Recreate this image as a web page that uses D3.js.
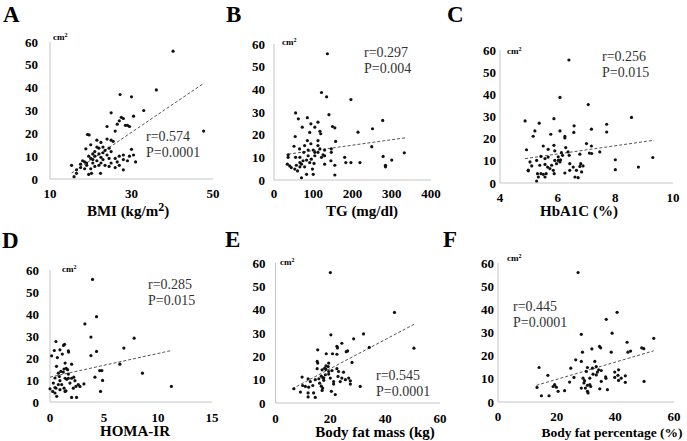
<!DOCTYPE html>
<html><head><meta charset="utf-8">
<script src="https://cdn.jsdelivr.net/npm/d3@7"></script>
<style>body{margin:0;background:#fff}svg{display:block}</style>
</head><body>
<script>
// ---------- DATA ----------
const panelLetters = ["A","B","C","D","E","F"];
const xTitles = ["BMI (kg/m", "TG (mg/dl)", "HbA1C (%)", "HOMA-IR", "Body fat mass (kg)", "Body fat percentage (%)"];
const xDomains = [[10,50],[0,400],[4,10],[0,15],[0,60],[0,60]];
const xTicksList = [[10,30,50],[0,100,200,300,400],[4,6,8,10],[0,5,10,15],[0,20,40,60],[0,20,40,60]];
const yTicks = [0,10,20,30,40,50,60];
const rLabels = ["r=0.574","r=0.297","r=0.256","r=0.285","r=0.545","r=0.445"];
const pLabels = ["P=0.0001","P=0.004","P=0.015","P=0.015","P=0.0001","P=0.0001"];
const unitLabel = "cm";

const bmiPoints = [[40.2,56],[36.1,39],[27.2,37],[30,36],[33,30],[25,29],[30.5,27.5],[47.7,21],
[27.5,27],[28,26.5],[27,25.5],[26.5,24],[28.5,23.5],[29,23.5],[29.5,23],[24,23],[26,21],[19.2,19.5],[19.6,19.3],
[24,17.5],[21.5,17],[22.5,16],[20,15],[25.5,16.5],[25,17],[23,14],[22,13.5],[24.5,13.5],[21,12],[18.8,13.2],
[20.5,11],[22,11],[23,11.5],[24,10.5],[21,10],[19.5,10],[22.5,9.5],[24.5,9],[26,9],[27,10],[28,10.5],[29.5,10],
[30,13],[30.5,10.5],[28,8.5],[29,8],[31,7.5],[27,6],[26,5],[28,4],[18,8],[18.5,7.5],[19,7],[17.5,6.5],[19,6],
[20.5,7],[21.5,8],[22.5,7],[23.5,6],[24.5,5.5],[21,5.5],[20,4.5],[18.5,4.5],[17.5,5],[16.5,4],[15.3,6],[16.5,2.5],
[15.9,1],[19.5,2],[20.2,2.5],[22.4,2.5],[20.5,8.5],[23,8.5],[22,6],[25,7],[26.5,7.5],[25,12],[21.5,14],[23.5,12.5],[20,9]];
const tgPoints = [[136,55.7],[121,38.6],[134,36.7],[196,35.5],[140,28.8],[55,29.6],[62,27],[85,27.5],[72,23.3],[94,24.8],
[104,23.3],[112,25.5],[54,19.2],[117,21.5],[119,20.4],[149,23.6],[155,23],[214,21.1],[251,22.6],[277,26.3],[157,17],
[85,17.4],[91,21],[112,17.4],[112,15.2],[94,16],[146,13.7],[146,12.2],[249,14.7],[51,14.9],[78,15.2],[117,13.7],
[100,13.2],[129,13.2],[76,12.2],[332,12],[278,10.4],[180,10],[300,8.8],[284,6.5],[284,5.8],[219,7.7],[196,7.7],
[183,7.7],[155,6.5],[129,7],[155,2.2],[125,11.1],[104,10.7],[87,10.7],[66,10],[36,11.1],[36,10],[34,7],[40,6.2],
[44,5.5],[53,4.8],[60,4],[66,5.8],[70,7],[74,8.5],[83,8.8],[91,7.7],[102,7.3],[83,2.5],[70,1],[100,2.5],[57,6.5],
[66,7.7],[78,5.8],[95,9.2],[104,12.2],[112,12.2],[129,10.7],[87,13.2],[65,13.7],[98,4.8],[121,10],[145,8.5],[55,10]];
const hba1cPoints = [[6.39,55.5],[6.08,38.6],[7.06,35.4],[8.56,29.6],[4.87,28],[5.36,27],[5.87,29],[5.21,23.5],[5.15,21.1],
[5.76,22],[6.08,23.5],[6.25,21],[6.25,20.3],[6.57,25.8],[6.56,22.8],[7.17,24.3],[7.7,26.5],[7.7,23],[7.0,17.8],[7.17,16.7],
[7.46,14],[7.1,13.5],[7.18,13.3],[4.92,15],[5.5,16.7],[5.87,17],[5.67,15.2],[5.9,14.5],[6.13,13.7],[6.28,16],[6.77,13],
[6.4,12.5],[8.0,10.5],[8.0,6],[8.8,7.2],[9.3,11.5],[4.98,5.5],[4.98,5.8],[5.1,7.7],[5.27,10.2],[5.42,12],[5.56,11],
[5.67,11.7],[5.38,8],[5.56,8.4],[5.65,7.2],[5.79,8],[5.3,4.2],[5.42,4.2],[5.5,3.9],[5.6,4.2],[5.33,2.7],[5.27,0.9],
[5.56,2.7],[5.88,4.2],[5.96,8.7],[6.02,10.2],[6.1,10.5],[6.02,11.8],[6.17,12.5],[6.42,8.7],[6.42,5.7],[6.25,4.5],
[6.54,7.2],[6.8,8.7],[6.77,7.5],[6.65,5.7],[6.6,2.7],[6.71,2.4],[6.83,5],[6.88,7.7],[6.36,14],[6.08,9.5],[5.9,10.2],
[5.85,5.7],[5.73,6.5],[5.04,9.5]];
const homaPoints = [[3.94,55.7],[4.31,38.8],[3.23,35.5],[3.79,29.5],[7.79,29],[6.84,24.5],[4.31,23],[3.79,21.1],[0.55,27.5],
[1.25,25.7],[1.35,26.2],[0.4,23.4],[0.92,23.7],[1.7,23.2],[1.72,22.7],[0.15,21],[0.68,20.2],[1.14,21.8],[2.0,17.2],[6.47,17.2],
[8.56,13.1],[11.24,7.1],[4.6,14.3],[4.8,14.3],[4.16,11.3],[4.87,9.8],[4.68,4.8],[3.14,8.2],[0.6,16.2],[1.4,17.7],[1.3,15],
[1.5,15.3],[1.63,14.7],[1.0,13.9],[0.77,13.1],[1.23,13.6],[1.7,12.7],[0.86,11.6],[1.4,10.8],[1.55,10.3],[1.7,10.8],[2,10.8],
[2.2,11.3],[0.46,10.9],[0.92,9.7],[0.31,8.6],[0,6],[0.25,4.8],[0.55,6.3],[0.77,7.9],[1.08,7.9],[1.3,6.3],[1.48,5.1],
[0.92,5.6],[0.62,2.6],[2.0,2.1],[2.46,2.1],[2.16,6.3],[2.4,7.1],[2.62,7.9],[2.77,7.1],[1.85,8.6],[1.39,4.8],[0.46,4.1],
[2.31,9.7],[0.46,6.6]];
const fatMassPoints = [[20,55.9],[43.4,38.8],[20.2,29.2],[32.1,29.6],[28.5,27.5],[24.2,25.6],[22.4,24.3],[22.6,23.6],[34.2,23.8],
[50.5,23.5],[15.4,22.8],[25.8,22],[26.3,22.3],[18.5,21.1],[20.8,21.1],[22.4,20.9],[15.2,17.8],[15.4,17.1],[19.4,17.1],[27.9,17.4],
[17.9,14.9],[18.4,14.4],[19.2,15.6],[17,14.2],[15.2,14.7],[20.6,13.9],[23,13.5],[24.8,13.2],[16.7,11.5],[17.3,10.8],[17.6,10.8],
[15.8,10.4],[19.4,12.4],[20,10.7],[21.2,9.2],[21.2,8.1],[22.8,11.4],[24.2,10.7],[23.6,9.2],[25.5,10],[26.7,10.7],[27.3,9.5],
[27.3,8.1],[30.9,7.1],[9.7,11.1],[11.9,10.4],[12.7,9.2],[9.9,7.5],[10.9,7.1],[12.1,6.8],[13.6,7.5],[6.7,6.1],[9.1,4.7],
[11.9,4.3],[11.9,2.6],[14.5,2.4],[13.9,4.3],[16.7,7.2],[17.2,6.4],[17,5.4],[20.4,5],[21.8,3.6],[18.2,12.1],[16.1,8.5],
[17.6,9.7],[19.4,13.5],[18.4,15.9],[14.5,10],[22.4,14.7]];
const fatPctPoints = [[27.3,55.9],[40.6,38.7],[36.9,35.7],[28.4,29.2],[38.9,29.7],[53.1,27.5],[44,25.8],[34.6,24],[35,23.4],
[32,22.9],[49,23.4],[49.7,23],[45.2,22],[44.3,21.5],[38.6,21.5],[28.8,21.5],[26.5,18.2],[28.4,17.5],[33,17.5],[14,14.9],
[24.8,14.6],[30.5,14.9],[32.2,14.6],[33.5,15.3],[34.3,13.9],[35.2,13.6],[33.9,12.9],[39.8,12.9],[41.1,13.9],[36.7,10.9],
[36.8,10.2],[40.9,11.5],[39.8,10.6],[42,10.3],[43.4,11.3],[41.1,9.3],[43.4,8.5],[49.8,8.9],[17,11.5],[18.8,6.7],[19.9,6.4],
[19.3,7.5],[20.5,4.6],[22.7,4.9],[24.4,8.6],[25.9,10.6],[13.3,6.3],[14.8,2.7],[17.4,2.7],[29,10.3],[29.5,9.2],[29.3,8.2],
[28.4,6],[29.8,6],[30.5,7.2],[31.3,7.5],[30.5,4.6],[30.7,3.9],[31.6,6.7],[30.1,13.2],[34.7,5.7],[37.3,5.3],[31.3,10.3],
[32.4,12],[33.5,11.7],[35.2,8.9]];
const trendLines = [[[15.3,2.6],[47.8,42]],[[36,11.4],[334,18.6]],[[4.87,11],[9.35,19.3]],[[0,11.3],[11.24,23.4]],[[6.1,6.1],[50.5,33.7]],[[13.1,7.2],[53.1,22.1]]];
const allPoints = [bmiPoints, tgPoints, hba1cPoints, homaPoints, fatMassPoints, fatPctPoints];

// ---------- LAYOUT ----------
const layout = [
 {xr:[50,213], yr:[179,42], gap:12, tickY:193, title:[128,211], tfs:15, letter:[3,22], cm:[53,40], rp:[146,136]},
 {xr:[274,431], yr:[180,44], gap:9, tickY:193, title:[362,211], tfs:15, letter:[226,22], cm:[282,45], rp:[364,52]},
 {xr:[500,673], yr:[183,50], gap:4, tickY:197, title:[579,211], tfs:15, letter:[447,22], cm:[507,54], rp:[602,56]},
 {xr:[50,212], yr:[402,270], gap:11, tickY:417, title:[135,431], tfs:15, letter:[2,248], cm:[62,272], rp:[148,284]},
 {xr:[275.5,440], yr:[403,263], gap:10, tickY:418, title:[375,432], tfs:15, letter:[225,247], cm:[280,265], rp:[376,375]},
 {xr:[498,674], yr:[402,263], gap:4, tickY:416, title:[612,432], tfs:13.5, letter:[443,247], cm:[507,261], rp:[513,306]}
];

const svg = d3.select("body").append("svg").attr("width",687).attr("height",441)
  .style("font-family","'Liberation Serif','Times New Roman',serif");

layout.forEach((L,i)=>{
  const x = d3.scaleLinear().domain(xDomains[i]).range(L.xr);
  const y = d3.scaleLinear().domain([0,60]).range(L.yr);
  const g = svg.append("g");
  g.append("line").attr("x1",L.xr[0]).attr("x2",L.xr[0]).attr("y1",y(0)).attr("y2",y(60))
    .attr("stroke","#c4c4c4").attr("stroke-width",1);
  g.append("line").attr("x1",L.xr[0]).attr("x2",L.xr[1]).attr("y1",y(0)).attr("y2",y(0))
    .attr("stroke","#c4c4c4").attr("stroke-width",1);
  g.selectAll(".yt").data(yTicks).join("text")
    .attr("x",L.xr[0]-L.gap).attr("y",d=>y(d)).attr("dy","0.35em")
    .attr("text-anchor","end").attr("font-size",13).attr("font-weight","bold").text(d=>d);
  g.selectAll(".xt").data(xTicksList[i]).join("text")
    .attr("x",d=>x(d)).attr("y",L.tickY).attr("dy","0.35em")
    .attr("text-anchor","middle").attr("font-size",13).attr("font-weight","bold").text(d=>d);
  const t = g.append("text").attr("x",L.title[0]).attr("y",L.title[1]).attr("dy","0.35em")
    .attr("text-anchor","middle").attr("font-size",L.tfs).attr("font-weight","bold").text(xTitles[i]);
  if(i===0){
    t.append("tspan").attr("font-size",12).attr("dy","-5").text("2");
    t.append("tspan").attr("dy","5").text(")");
  }
  g.append("text").attr("x",L.letter[0]).attr("y",L.letter[1]).attr("font-size",23)
    .attr("font-weight","bold").text(panelLetters[i]);
  const c = g.append("text").attr("x",L.cm[0]).attr("y",L.cm[1]).attr("font-size",9)
    .attr("font-weight","bold").text(unitLabel);
  c.append("tspan").attr("font-size",6).attr("dy","-3").text("2");
  g.append("line").attr("x1",x(trendLines[i][0][0])).attr("y1",y(trendLines[i][0][1]))
    .attr("x2",x(trendLines[i][1][0])).attr("y2",y(trendLines[i][1][1]))
    .attr("stroke","#555").attr("stroke-width",1).attr("stroke-dasharray","3,2");
  g.selectAll("circle").data(allPoints[i]).join("circle")
    .attr("cx",d=>x(d[0])).attr("cy",d=>y(d[1])).attr("r",1.6).attr("fill","#111");
  g.append("text").attr("x",L.rp[0]).attr("y",L.rp[1]).attr("dy","0.35em").attr("font-size",14)
    .attr("fill","#333").text(rLabels[i]);
  g.append("text").attr("x",L.rp[0]).attr("y",L.rp[1]+16).attr("dy","0.35em").attr("font-size",14)
    .attr("fill","#333").text(pLabels[i]);
});
</script>
</body></html>
